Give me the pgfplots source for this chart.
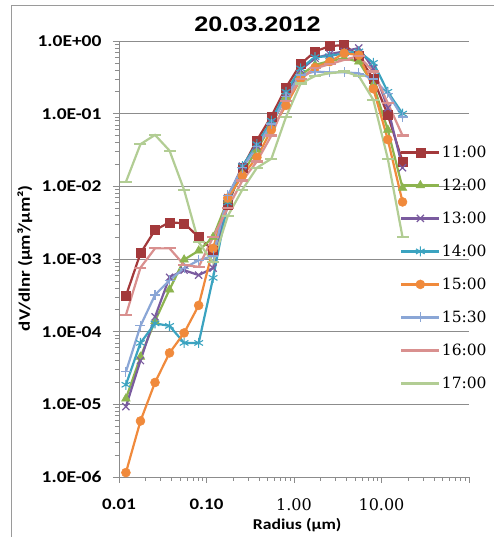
\documentclass[border=0pt]{standalone}
\usepackage{fontspec}
\usepackage{pgfplots}
\usepackage{pgfplotstable}
\pgfplotsset{compat=1.18}
\setmainfont{Carlito}
\newfontfamily\tickf{Carlito}[FakeStretch=1.18]
\newfontfamily\serf{DejaVu Serif}
\newfontfamily\titf{Liberation Sans}[FakeStretch=1.2]
\definecolor{cA}{HTML}{A3393B}
\definecolor{cB}{HTML}{8DB44F}
\definecolor{cC}{HTML}{7A5B9F}
\definecolor{cD}{HTML}{3BA3C0}
\definecolor{cE}{HTML}{F08A3C}
\definecolor{cF}{HTML}{8AA6D6}
\definecolor{cG}{HTML}{D9908F}
\definecolor{cH}{HTML}{B2CD94}
\definecolor{axgray}{HTML}{8C8C8C}
\definecolor{framegray}{HTML}{9A9A9A}

\pgfplotstableread{
r      a        b        c        d        e        f        g        h
0.0120 3.1e-4   1.2e-5   9.3e-6   1.86e-5  1.15e-6  2.8e-5   1.7e-4   0.0115
0.0176 1.2e-3   4.5e-5   4.0e-5   7.0e-5   5.9e-6   1.2e-4   7.6e-4   0.038
0.0258 2.5e-3   1.4e-4   1.6e-4   1.3e-4   2.0e-5   3.2e-4   1.4e-3   0.051
0.0378 3.2e-3   3.8e-4   5.6e-4   1.2e-4   5.1e-5   5.1e-4   1.4e-3   0.031
0.0555 3.1e-3   9.8e-4   7.0e-4   7.0e-5   9.6e-5   7.5e-4   8.3e-4   0.0089
0.0814 2.0e-3   1.3e-3   6.0e-4   7.0e-5   2.3e-4   9.6e-4   7.8e-4   1.7e-3
0.119  1.3e-3   2.0e-3   7.5e-4   5.5e-4   1.4e-3   1.1e-3   2.0e-3   9.0e-4
0.175  5.5e-3   6.5e-3   7.0e-3   6.0e-3   6.9e-3   7.5e-3   5.0e-3   3.9e-3
0.257  1.8e-2   1.5e-2   1.9e-2   1.9e-2   1.4e-2   1.8e-2   1.2e-2   9.0e-3
0.377  4.3e-2   3.2e-2   3.6e-2   3.8e-2   2.5e-2   3.5e-2   2.2e-2   1.8e-2
0.552  9.2e-2   7.0e-2   7.5e-2   8.0e-2   6.0e-2   7.2e-2   5.0e-2   2.4e-2
0.81   0.23     0.17     0.19     0.20     0.13     0.17     0.15     0.09
1.19   0.48     0.34     0.40     0.42     0.30     0.34     0.30     0.26
1.74   0.72     0.47     0.58     0.60     0.43     0.38     0.42     0.33
2.56   0.85     0.53     0.66     0.62     0.52     0.37     0.48     0.36
3.75   0.88     0.58     0.72     0.68     0.68     0.37     0.55     0.38
5.5    0.62     0.52     0.80     0.72     0.64     0.36     0.62     0.33
8.07   0.30     0.25     0.42     0.50     0.22     0.30     0.38     0.155
11.8   0.096    0.06     0.12     0.20     0.044    0.19     0.14     0.024
17.4   0.022    0.0095   0.018    0.10     0.0061   0.09     0.05     0.002
}\data

\begin{document}
\begin{tikzpicture}
\useasboundingbox (-119pt,-60pt) rectangle (375pt,477pt);
\draw[framegray, line width=0.8pt] (-108pt,-60pt) -- (-108pt,472pt) -- (375pt,472pt);
\begin{axis}[
  at={(0pt,0pt)}, anchor=south west,
  scale only axis, width=350pt, height=436pt,
  xmode=log, ymode=log,
  xmin=0.01, xmax=100, ymin=1e-6, ymax=1,
  clip=false,
  axis x line*=bottom, axis y line*=left,
  axis line style={draw=axgray, line width=0.8pt, -},
  ymajorgrids,
  major grid style={draw=axgray, line width=0.8pt},
  tick align=outside,
  major tick length=6pt, minor tick length=4pt,
  every tick/.style={draw=axgray, line width=0.6pt},
  xtick={0.01,0.1,1,10,100},
  xticklabels={{\tickf\bfseries 0.01},{\tickf\bfseries 0.10},{\serf 1.00},{\serf 10.00},{}},
  ytick={1e-6,1e-5,1e-4,1e-3,1e-2,1e-1,1},
  yticklabels={1.0E-06,1.0E-05,1.0E-04,1.0E-03,1.0E-02,1.0E-01,1.0E+00},
  yticklabel style={font=\tickf\bfseries\fontsize{16.5}{17}\selectfont, xshift=-8pt},
  xticklabel style={font=\fontsize{16}{17}\selectfont, yshift=-12pt},
  xlabel={Radius (µm)},
  ylabel={dV/dlnr (µm³/µm²)},
  xlabel style={font=\tickf\bfseries\fontsize{15}{16}\selectfont, at={(axis description cs:0.509,-0.11)}, anchor=center},
  ylabel style={font=\tickf\bfseries\fontsize{16}{17}\selectfont, at={(axis description cs:-0.269,0.502)}, anchor=center},
  legend style={at={(axis description cs:0.803,0.761)}, anchor=north west, draw=none, fill=none,
    font=\serf\fontsize{15.5}{16}\selectfont, inner sep=0pt, row sep=19pt,
    nodes={inner sep=1.5pt, text height=11pt, text depth=0pt}},
  legend cell align=left,
  legend image code/.code={\draw[mark repeat=2,mark phase=2] plot coordinates {(0pt,0pt) (19pt,0pt) (38pt,0pt)};},
  every axis plot/.append style={line width=2.2pt},
]
\addplot[cA, mark=square*, mark size=4.5pt, mark options={solid, line width=0.5pt}] table[x=r,y=a]{\data};
\addlegendentry{11:00}
\addplot[cB, mark=triangle*, mark size=5pt, mark options={solid, line width=0.5pt}] table[x=r,y=b]{\data};
\addlegendentry{12:00}
\addplot[cC, mark=x, mark size=5pt, mark options={solid, line width=1.2pt}] table[x=r,y=c]{\data};
\addlegendentry{13:00}
\addplot[cD, mark=asterisk, mark size=5pt, mark options={solid, line width=1.1pt}] table[x=r,y=d]{\data};
\addlegendentry{14:00}
\addplot[cE, mark=*, mark size=4.5pt, mark options={solid, line width=0.5pt}] table[x=r,y=e]{\data};
\addlegendentry{15:00}
\addplot[cF, mark=+, mark size=5pt, mark options={solid, line width=1.1pt}] table[x=r,y=f]{\data};
\addlegendentry{15:30}
\addplot[cG, mark=-, mark size=6pt, mark options={solid, line width=2.2pt}] table[x=r,y=g]{\data};
\addlegendentry{16:00}
\addplot[cH, mark=-, mark size=6pt, mark options={solid, line width=2.2pt}] table[x=r,y=h]{\data};
\addlegendentry{17:00}
\end{axis}
\node[font=\titf\bfseries\fontsize{21}{22}\selectfont, anchor=base] at (138.5pt,445pt) {20.03.2012};
\end{tikzpicture}
\end{document}
